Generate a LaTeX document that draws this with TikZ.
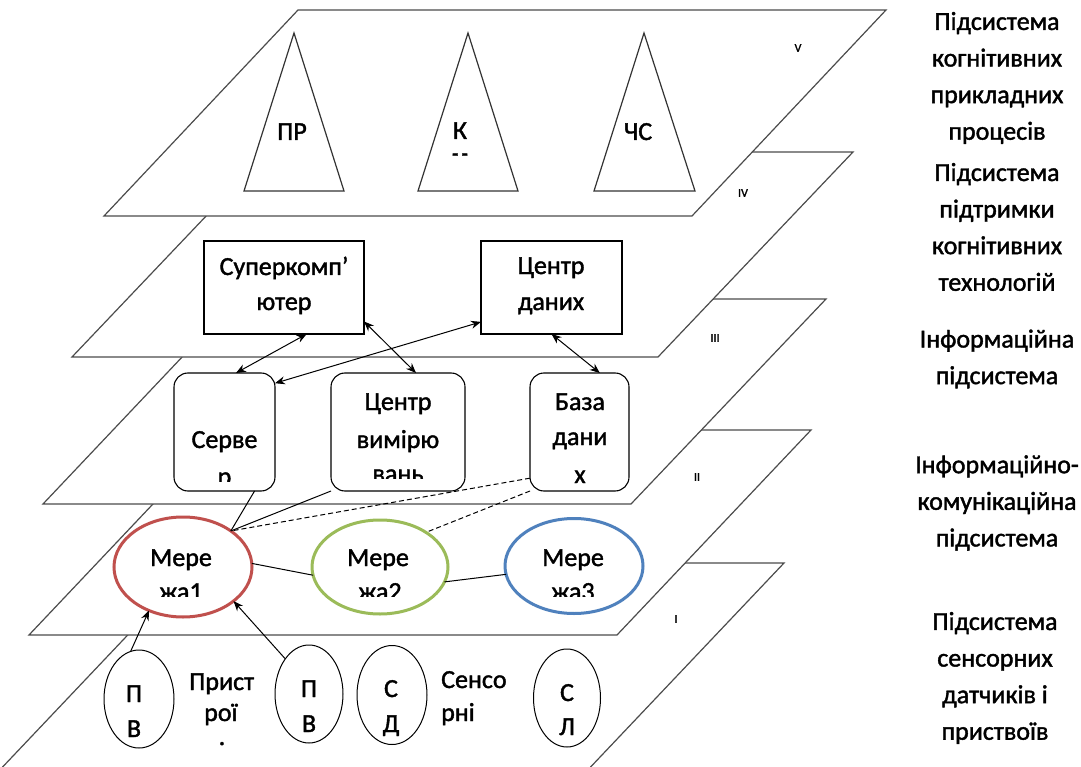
\documentclass[tikz,border=0pt]{standalone}
\usepackage{fontspec}
\setmainfont{Carlito}[FakeBold=1.5]
\usetikzlibrary{arrows.meta,shapes.geometric,calc}
\definecolor{netred}{HTML}{C0504D}
\definecolor{netgreen}{HTML}{9BBB59}
\definecolor{netblue}{HTML}{4F81BD}
\definecolor{planeline}{gray}{0.3}
\begin{document}
\begin{tikzpicture}[x=1pt,y=-1pt,
  plane/.style={draw=planeline,line width=1.2pt,fill=white,line join=miter},
  tri/.style={draw=black!80,line width=1.2pt,fill=white},
  box/.style={draw=black,line width=1.1pt,fill=white,rectangle,inner sep=0pt,outer sep=0pt},
  rbox/.style={box,rounded corners=14pt},
  net/.style={ellipse,line width=3pt,fill=white,inner sep=0pt,outer sep=0pt},
  dev/.style={ellipse,draw=black,line width=1pt,fill=white,inner sep=0pt,outer sep=0pt},
  lbl/.style={font=\fontsize{26}{26}\selectfont,inner sep=0pt,anchor=base},
  side/.style={font=\fontsize{26}{36.6}\selectfont,align=center,inner sep=0pt},
  roman/.style={font=\fontsize{12}{12}\selectfont,inner sep=0pt},
  link/.style={line width=1pt},
  dlink/.style={line width=1pt,dash pattern=on 5pt off 3pt},
  arr/.style={line width=1pt,{Stealth[length=10pt,width=8pt]}-{Stealth[length=10pt,width=8pt]}},
  uarr/.style={line width=1pt,-{Stealth[length=10pt,width=8pt]}},
]
\fill[white] (0,0) rectangle (1081,767);
\useasboundingbox (0,0) rectangle (1081,767);

% planes, from the lowest (I) to the highest (V)
\draw[plane] (196,563) -- (784,563) -- (583,775) -- (-5,775) -- cycle;
\draw[plane] (223,430) -- (811,430) -- (617,635) -- (29,635) -- cycle;
\draw[plane] (237,299) -- (826,299) -- (631,504) -- (43,504) -- cycle;
\draw[plane] (267,152) -- (853,152) -- (658,357) -- (72,357) -- cycle;
\draw[plane] (298,10) -- (886,10) -- (692,216) -- (104,216) -- cycle;

% roman numerals
\node[roman] (rV) at (798,48) {V};
\node[roman] (rIV) at (743,193) {IV};
\node[roman] (rIII) at (715,338) {III};
\node[roman] (rII) at (697,477) {II};
\node[roman] (rI) at (676,619) {I};

% level V : triangles
\draw[tri] (294,33) -- (244,191) -- (344,191) -- cycle;
\draw[tri] (468,33) -- (418,191) -- (518,191) -- cycle;
\draw[tri] (644,33) -- (594,191) -- (695,191) -- cycle;
\node[lbl] (tPR) at (292,140) {ПР};
\node[lbl] (tK) at (460,139) {К};
\node[inner sep=0pt,font=\fontsize{20}{20}\selectfont\bfseries] (tKd) at (460,157) {-\,-};
\node[lbl] (tCS) at (638,140) {ЧС};

% level IV : rectangles
\node[box,minimum width=160pt,minimum height=93pt] (sup) at (284,287.5) {};
\node[box,minimum width=141pt,minimum height=93pt] (cd) at (551.5,287.5) {};
\node[lbl] (supt1) at (284,275) {Суперкомп’};
\node[lbl] (supt2) at (284,310) {ютер};
\node[lbl] (cdt1) at (551,274) {Центр};
\node[lbl] (cdt2) at (551,310) {даних};

% level III : rounded boxes
\node[rbox,minimum width=101pt,minimum height=118pt] (serv) at (224.5,432) {};
\node[rbox,minimum width=134pt,minimum height=118pt] (cvm) at (398,432) {};
\node[rbox,minimum width=99pt,minimum height=118pt] (bd) at (579.5,432) {};
\begin{scope}
  \clip (174,373) rectangle (275,481);
  \node[lbl] (servt1) at (224.5,448) {Серве};
  \node[lbl] (servt2) at (224.5,485) {р};
\end{scope}
\begin{scope}
  \clip (331,373) rectangle (465,478);
  \node[lbl] (cvmt1) at (398,410) {Центр};
  \node[lbl] (cvmt2) at (398,448) {вимірю};
  \node[lbl] (cvmt3) at (398,482) {вань};
\end{scope}
\begin{scope}
  \clip (530,373) rectangle (629,487);
  \node[lbl] (bdt1) at (580,410) {База};
  \node[lbl] (bdt2) at (580,445) {дани};
  \node[lbl] (bdt3) at (580,483) {х};
\end{scope}

% level II : networks
\node[net,draw=netred,minimum width=138pt,minimum height=100pt] (m1) at (183,567) {};
\node[net,draw=netgreen,minimum width=136pt,minimum height=94pt] (m2) at (380,567) {};
\node[net,draw=netblue,minimum width=138pt,minimum height=95pt] (m3) at (574,566) {};
\begin{scope}
  \clip (110,510) rectangle (660,596);
  \node[lbl] (m1t1) at (181,566) {Мере};
  \node[lbl] (m1t2) at (181,600) {жа1};
  \node[lbl] (m2t1) at (378,566) {Мере};
  \node[lbl] (m2t2) at (380,600) {жа2};
  \node[lbl] (m3t1) at (573,566) {Мере};
  \node[lbl] (m3t2) at (573,600) {жа3};
\end{scope}

% level I : devices and sensors
\node[dev,minimum width=70pt,minimum height=98pt] (pv1) at (139,699) {};
\node[dev,minimum width=68pt,minimum height=98pt] (pv2) at (309,694) {};
\node[dev,minimum width=70pt,minimum height=99pt] (sd) at (392,695) {};
\node[dev,minimum width=67pt,minimum height=98pt] (sl) at (567,698) {};
\node[lbl] (pv1t1) at (134,702) {П};
\node[lbl] (pv1t2) at (134,737) {В};
\node[lbl] (pv2t1) at (309,697) {П};
\node[lbl] (pv2t2) at (309,732) {В};
\node[lbl] (sdt1) at (391,697) {С};
\node[lbl] (sdt2) at (391,732) {Д};
\node[lbl] (slt1) at (567,701) {С};
\node[lbl] (slt2) at (567,735) {Л};
\node[lbl,anchor=base west] (prt1) at (189,690) {Прист};
\node[lbl,anchor=base west] (prt2) at (204,721) {рої};
\node[lbl] (prt3) at (222,745) {.};
\node[lbl,anchor=base west] (sst1) at (441,688) {Сенсо};
\node[lbl,anchor=base west] (sst2) at (441,721) {рні};

% connectors
\draw[arr] (sup.-64) -- (serv.79);
\draw[arr] (sup.-23) -- (cvm.73);
\draw[arr] (cd.206) -- (serv.44);
\draw[arr] (cd.south) -- (bd.71);
\draw[link] (serv.-63) -- (m1.37);
\draw[link] (cvm.south west) -- (m1.37);
\draw[dlink] (bd.223) -- (m1.37);
\draw[dlink] (bd.south west) -- (m2.37);
\draw[link] (m1.3) -- (m2.187);
\draw[link] (m2.-13) -- (m3.187);
\draw[uarr] (pv1.100) -- (m1.232);
\draw[uarr] (pv2.124) -- (m1.-34);

% right-hand captions
\node[side] (c5) at (997,78) {Підсистема\\когнітивних\\прикладних\\процесів};
\node[side] (c4) at (997,227) {Підсистема\\підтримки\\когнітивних\\технологій};
\node[side] (c3) at (997,359) {Інформаційна\\підсистема};
\node[side] (c2) at (997,503) {Інформаційно-\\комунікаційна\\підсистема};
\node[side] (c1) at (995,678) {Підсистема\\сенсорних\\датчиків і\\приствоїв};
\end{tikzpicture}
\end{document}
